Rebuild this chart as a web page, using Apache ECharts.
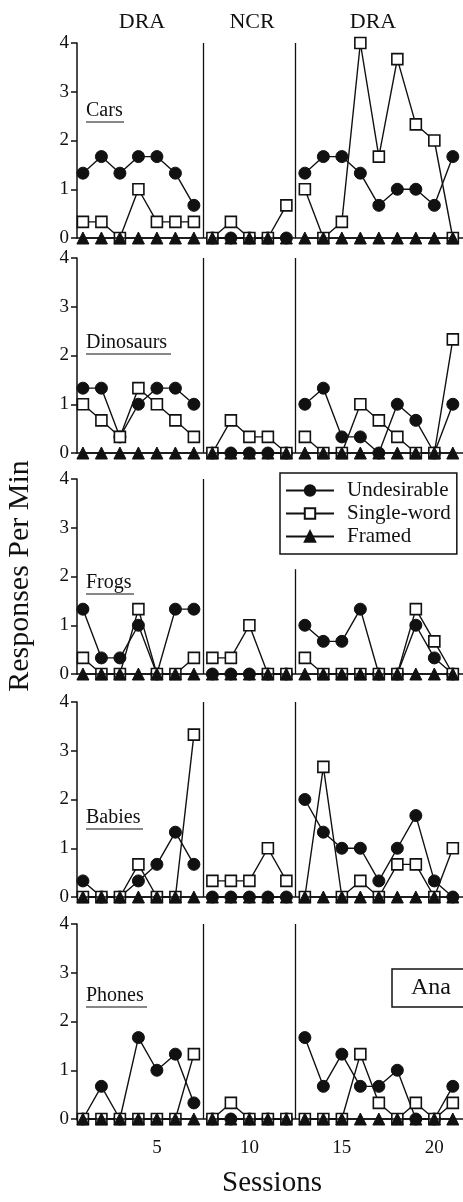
<!DOCTYPE html>
<html>
<head>
<meta charset="utf-8">
<script src="https://cdn.jsdelivr.net/npm/echarts@6/dist/echarts.min.js"></script>
<style>
  html, body { margin: 0; padding: 0; background: #fff; }
  #chart { width: 463px; height: 1202px; }
</style>
</head>
<body>
<div id="chart"></div>
<script>
// sessions and labels
const sessions = [1, 2, 3, 4, 5, 6, 7, 8, 9, 10, 11, 12, 13, 14, 15, 16, 17, 18, 19, 20, 21];
const phaseNames = ['DRA', 'NCR', 'DRA'];
const phaseStarts = [1, 8, 13];
const phaseEnds = [7, 12, 21];
const phaseLines = [7.5, 12.5];
const panelNames = ['Cars', 'Dinosaurs', 'Frogs', 'Babies', 'Phones'];
const measureNames = ['Undesirable', 'Single-word', 'Framed'];
const xTickLabels = [5, 10, 15, 20];

// responses per min, sessions 1-21
const carsUndesirable = [1.33, 1.67, 1.33, 1.67, 1.67, 1.33, 0.67, 0, 0, 0, 0, 0, 1.33, 1.67, 1.67, 1.33, 0.67, 1, 1, 0.67, 1.67];
const carsSingle = [0.33, 0.33, 0, 1, 0.33, 0.33, 0.33, 0, 0.33, 0, 0, 0.67, 1, 0, 0.33, 4, 1.67, 3.67, 2.33, 2, 0];
const carsFramed = [0, 0, 0, 0, 0, 0, 0, 0, 0, 0, 0, 0, 0, 0, 0, 0, 0, 0, 0, 0, 0];

const dinoUndesirable = [1.33, 1.33, 0.33, 1, 1.33, 1.33, 1, 0, 0, 0, 0, 0, 1, 1.33, 0.33, 0.33, 0, 1, 0.67, 0, 1];
const dinoSingle = [1, 0.67, 0.33, 1.33, 1, 0.67, 0.33, 0, 0.67, 0.33, 0.33, 0, 0.33, 0, 0, 1, 0.67, 0.33, 0, 0, 2.33];
const dinoFramed = [0, 0, 0, 0, 0, 0, 0, 0, 0, 0, 0, 0, 0, 0, 0, 0, 0, 0, 0, 0, 0];

const frogsUndesirable = [1.33, 0.33, 0.33, 1, 0, 1.33, 1.33, 0, 0, 0, 0, 0, 1, 0.67, 0.67, 1.33, 0, 0, 1, 0.33, 0];
const frogsSingle = [0.33, 0, 0, 1.33, 0, 0, 0.33, 0.33, 0.33, 1, 0, 0, 0.33, 0, 0, 0, 0, 0, 1.33, 0.67, 0];
const frogsFramed = [0, 0, 0, 0, 0, 0, 0, 0, 0, 0, 0, 0, 0, 0, 0, 0, 0, 0, 0, 0, 0];

const babiesUndesirable = [0.33, 0, 0, 0.33, 0.67, 1.33, 0.67, 0, 0, 0, 0, 0, 2, 1.33, 1, 1, 0.33, 1, 1.67, 0.33, 0];
const babiesSingle = [0, 0, 0, 0.67, 0, 0, 3.33, 0.33, 0.33, 0.33, 1, 0.33, 0, 2.67, 0, 0.33, 0, 0.67, 0.67, 0, 1];
const babiesFramed = [0, 0, 0, 0, 0, 0, 0, 0, 0, 0, 0, 0, 0, 0, 0, 0, 0, 0, 0, 0, 0];

const phonesUndesirable = [0, 0.67, 0, 1.67, 1, 1.33, 0.33, 0, 0, 0, 0, 0, 1.67, 0.67, 1.33, 0.67, 0.67, 1, 0, 0, 0.67];
const phonesSingle = [0, 0, 0, 0, 0, 0, 1.33, 0, 0.33, 0, 0, 0, 0, 0, 0, 1.33, 0.33, 0, 0.33, 0, 0.33];
const phonesFramed = [0, 0, 0, 0, 0, 0, 0, 0, 0, 0, 0, 0, 0, 0, 0, 0, 0, 0, 0, 0, 0];

const panels = [
  [carsUndesirable, carsSingle, carsFramed],
  [dinoUndesirable, dinoSingle, dinoFramed],
  [frogsUndesirable, frogsSingle, frogsFramed],
  [babiesUndesirable, babiesSingle, babiesFramed],
  [phonesUndesirable, phonesSingle, phonesFramed]
];

// layout
const FONT = '"Liberation Serif", "Times New Roman", serif';
const INK = '#111';
const gridTops = [43, 258, 479, 702, 924];
const gridH = 195;
const labelTops = [101, 333, 573, 808, 986];
const labelWidths = [38, 85, 48, 57, 61];

const symbols = [
  { symbol: 'circle', size: 12, itemStyle: { color: INK, borderColor: INK, borderWidth: 1 } },
  { symbol: 'rect', size: 11, itemStyle: { color: '#fff', borderColor: INK, borderWidth: 1.6 } },
  { symbol: 'triangle', size: 12, itemStyle: { color: INK, borderColor: INK, borderWidth: 1 } }
];

let myChart = echarts.init(document.getElementById('chart'));

const grid = [], xAxis = [], yAxis = [], series = [], graphic = [];

panels.forEach((panel, p) => {
  grid.push({ left: 77, right: 0, top: gridTops[p], height: gridH });
  const last = p === panels.length - 1;
  xAxis.push({
    type: 'value', gridIndex: p, min: 0.68, max: 21.55,
    axisLine: { show: true, lineStyle: { color: INK, width: 1.5 } },
    axisTick: { show: true, length: 6, customValues: xTickLabels, lineStyle: { color: INK, width: 1.5 } },
    axisLabel: { show: last, customValues: xTickLabels, margin: 20, fontFamily: FONT, fontSize: 19, color: INK },
    splitLine: { show: false }
  });
  yAxis.push({
    type: 'value', gridIndex: p, min: 0, max: 4, interval: 1,
    axisLine: { show: true, lineStyle: { color: INK, width: 1.5 } },
    axisTick: { show: true, length: 6, lineStyle: { color: INK, width: 1.5 } },
    axisLabel: { margin: 8, fontFamily: FONT, fontSize: 19, color: INK },
    splitLine: { show: false }
  });

  // phase change lines
  const lineData = phaseLines.map(x => [{ coord: [x, 0] }, { coord: [x, 4] }]);
  if (p === 2) lineData[1][1] = { coord: [phaseLines[1], 2.15] };
  series.push({
    type: 'line', xAxisIndex: p, yAxisIndex: p, data: [], silent: true,
    markLine: {
      silent: true, symbol: 'none', animation: false,
      label: { show: false },
      lineStyle: { color: INK, width: 1.3, type: 'solid' },
      data: lineData
    }
  });

  panel.forEach((vals, m) => {
    phaseStarts.forEach((s0, k) => {
      const data = sessions.filter(s => s >= s0 && s <= phaseEnds[k]).map(s => [s, vals[s - 1]]);
      series.push({
        name: measureNames[m], type: 'line', xAxisIndex: p, yAxisIndex: p,
        data: data, clip: false, animation: false, z: 3 + m,
        symbol: symbols[m].symbol, symbolSize: symbols[m].size,
        itemStyle: symbols[m].itemStyle,
        lineStyle: { color: INK, width: 1.4 }
      });
    });
  });

  // underlined panel label
  graphic.push({
    type: 'text', left: 86, top: labelTops[p],
    style: { text: panelNames[p], font: '20px ' + FONT, fill: INK }
  });
  graphic.push({
    type: 'line', shape: { x1: 86, y1: labelTops[p] + 21, x2: 86 + labelWidths[p], y2: labelTops[p] + 21 },
    style: { stroke: INK, lineWidth: 1.2 }
  });
});

// phase headers
const headerX = [142, 252, 373];
phaseNames.forEach((name, i) => {
  graphic.push({
    type: 'text', x: headerX[i], y: 22,
    style: { text: name, font: '22px ' + FONT, fill: INK, align: 'center', verticalAlign: 'middle' }
  });
});

// axis titles
graphic.push({
  type: 'text', x: 20, y: 576, rotation: Math.PI / 2,
  style: { text: 'Responses Per Min', font: '30px ' + FONT, fill: INK, align: 'center', verticalAlign: 'middle' }
});
graphic.push({
  type: 'text', x: 272, y: 1183,
  style: { text: 'Sessions', font: '29px ' + FONT, fill: INK, align: 'center', verticalAlign: 'middle' }
});

// participant box
graphic.push({
  type: 'rect', shape: { x: 392, y: 969, width: 80, height: 38 },
  style: { fill: '#fff', stroke: INK, lineWidth: 1.5 }
});
graphic.push({
  type: 'text', x: 431, y: 988,
  style: { text: 'Ana', font: '24px ' + FONT, fill: INK, align: 'center', verticalAlign: 'middle' }
});

const option = {
  backgroundColor: '#fff',
  animation: false,
  grid, xAxis, yAxis, series, graphic,
  legend: {
    data: measureNames,
    orient: 'vertical', left: 280, top: 473,
    itemWidth: 48, itemHeight: 13, itemGap: 2,
    padding: [7, 6, 7, 5],
    borderColor: INK, borderWidth: 1.5, backgroundColor: '#fff',
    textStyle: { fontFamily: FONT, fontSize: 21, color: INK, padding: [0, 0, 0, 8] },
    selectedMode: false
  }
};

myChart.setOption(option);
</script>
</body>
</html>
